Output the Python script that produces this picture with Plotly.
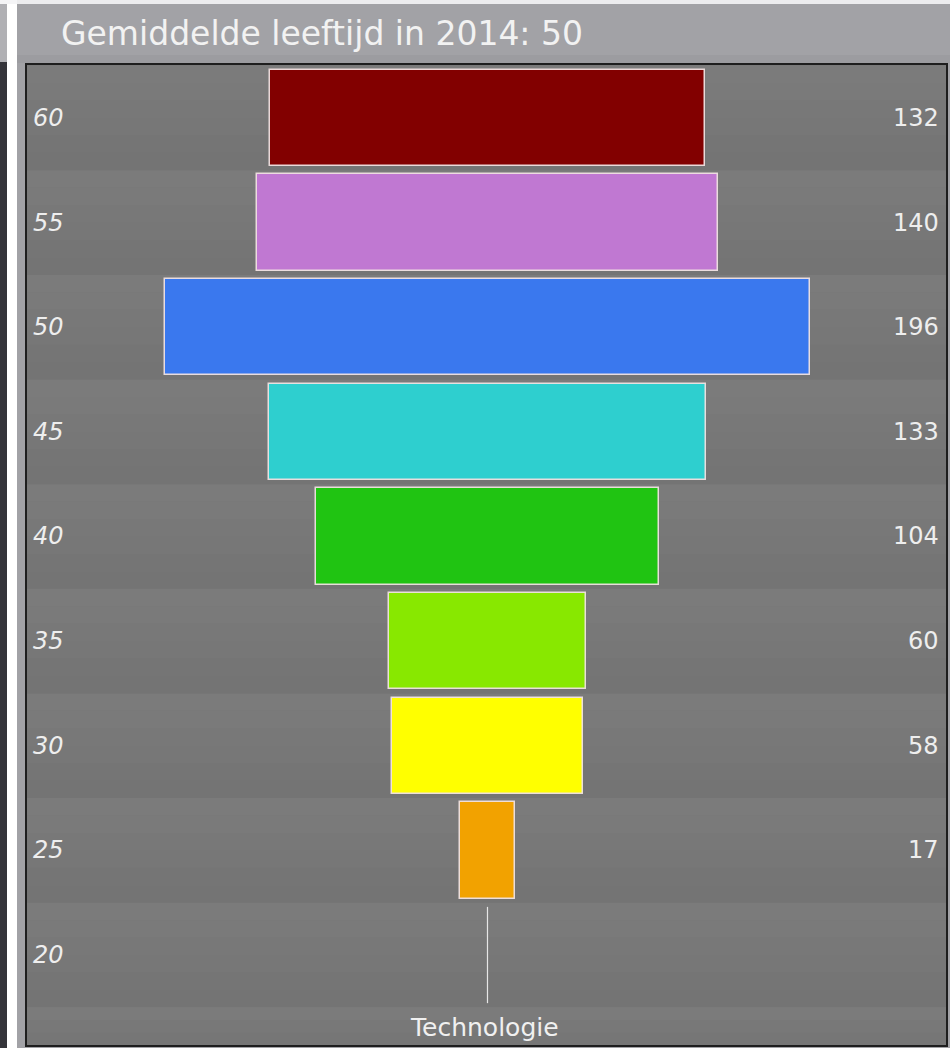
import plotly.graph_objects as go

# Age bands (bin start) and head count per band
ages = [20, 25, 30, 35, 40, 45, 50, 55, 60]
counts = [0, 17, 58, 60, 104, 133, 196, 140, 132]
bar_colors = ["#f0f0f0", "#f2a200", "#ffff00", "#88e800", "#20c412",
              "#2ecfcf", "#3a78ee", "#c078d2", "#820000"]
title_text = "Gemiddelde leeftijd in 2014: 50"
category = "Technologie"

W, H = 950, 1048
ML, MR, MT, MB = 27, 4, 65, 3
PW, PH = W - ML - MR, H - MT - MB

BAR_H = 4.6
Y_RANGE = [15.70, 62.53]
X_RANGE = [-140.0, 139.4]


def px_x(p):
    return (p - ML) / PW


def px_y(p):
    return 1 - (p - MT) / PH


fig = go.Figure()

# centred (funnel-style) bars
bar_ages = [a for a, c in zip(ages, counts) if c > 0]
bar_vals = [c for c in counts if c > 0]
bar_cols = [col for col, c in zip(bar_colors, counts) if c > 0]
fig.add_trace(go.Bar(
    y=bar_ages, x=bar_vals, base=[-v / 2 for v in bar_vals],
    orientation="h", width=BAR_H,
    marker=dict(color=bar_cols, line=dict(color="rgba(240,225,225,0.95)", width=1.5)),
    hoverinfo="skip", showlegend=False,
))

# empty band drawn as a thin stem
for a, c in zip(ages, counts):
    if c == 0:
        fig.add_trace(go.Scatter(
            x=[0, 0], y=[a - BAR_H / 2, a + BAR_H / 2], mode="lines",
            line=dict(color="#e6e6e6", width=1.2),
            hoverinfo="skip", showlegend=False,
        ))

shapes = []

# outer decorations: side strips and title bar (outside the plot area)
def deco(x0, x1, y0, y1, color):
    shapes.append(dict(type="rect", xref="paper", yref="paper",
                       x0=px_x(x0), x1=px_x(x1), y0=px_y(y1), y1=px_y(y0),
                       fillcolor=color, line=dict(width=0), layer="below"))

deco(0, 17, 0, 4, "#f4f4f6")
deco(17, W, 0, 4, "#ececee")
deco(0, 7, 4, 62, "#b0b0b4")
deco(0, 7, 62, H, "#34343a")
deco(7, 17, 4, H, "#ffffff")
deco(17, W, 55, 63, "#9c9ca0")

# shaded horizontal bands behind each age row
def band(y0, y1, top_shade, bottom_shade, steps=6):
    for i in range(steps):
        t = i / (steps - 1)
        g = round(top_shade + (bottom_shade - top_shade) * t)
        ya = y1 - (y1 - y0) * i / steps
        yb = y1 - (y1 - y0) * (i + 1) / steps
        shapes.append(dict(type="rect", xref="x", yref="y",
                           x0=X_RANGE[0], x1=X_RANGE[1],
                           y0=yb, y1=ya, line=dict(width=0),
                           fillcolor=f"rgb({g},{g},{g})", layer="below"))

for a in ages:
    band(a - 2.5, a + 2.5, 123, 116)
band(Y_RANGE[0], ages[0] - 2.5, 123, 118, steps=3)
band(ages[-1] + 2.5, Y_RANGE[1], 125, 122, steps=2)

annotations = [
    dict(text=title_text, xref="paper", yref="paper", x=px_x(59), y=px_y(33),
         xanchor="left", yanchor="middle", showarrow=False,
         font=dict(family="DejaVu Sans", size=33, color="#f2f2f2")),
    dict(text=category, xref="x", yref="paper", x=-1, y=px_y(1027),
         xanchor="center", yanchor="middle", showarrow=False,
         font=dict(family="DejaVu Sans", size=25, color="#f0f0f0")),
]
for a, c in zip(ages, counts):
    annotations.append(dict(
        text=f"<i>{a}</i>", xref="paper", yref="y", x=px_x(31), y=a,
        xanchor="left", yanchor="middle", showarrow=False,
        font=dict(family="DejaVu Sans", size=24, color="#eeeeee")))
    if c > 0:
        annotations.append(dict(
            text=str(c), xref="paper", yref="y", x=px_x(941), y=a,
            xanchor="right", yanchor="middle", showarrow=False,
            font=dict(family="DejaVu Sans", size=24, color="#eeeeee")))

fig.update_layout(
    width=W, height=H,
    margin=dict(l=ML, r=MR, t=MT, b=MB, pad=0),
    paper_bgcolor="#a2a2a6", plot_bgcolor="#787878",
    barmode="overlay", bargap=0,
    xaxis=dict(range=X_RANGE, showgrid=False, zeroline=False, showticklabels=False,
               showline=True, mirror=True, linecolor="#1e1e1e", linewidth=2, fixedrange=True),
    yaxis=dict(range=Y_RANGE, showgrid=False, zeroline=False, showticklabels=False,
               showline=True, mirror=True, linecolor="#1e1e1e", linewidth=2, fixedrange=True),
    shapes=shapes, annotations=annotations,
)

fig.write_html("out.html")
